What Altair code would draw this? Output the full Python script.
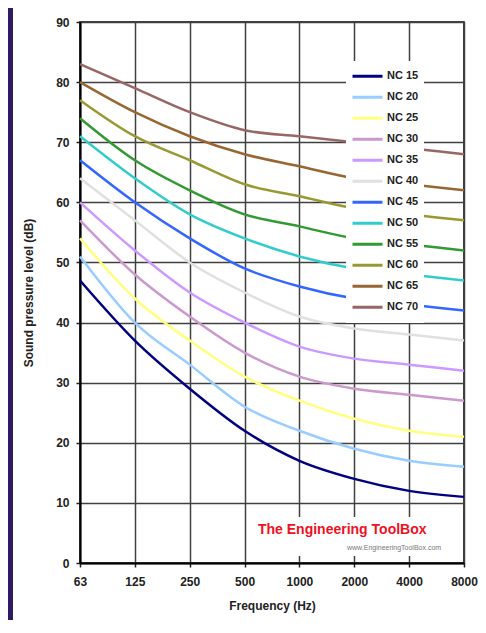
import altair as alt
import pandas as pd

freqs = ["63", "125", "250", "500", "1000", "2000", "4000", "8000"]
series_names = ["NC 15", "NC 20", "NC 25", "NC 30", "NC 35", "NC 40",
                "NC 45", "NC 50", "NC 55", "NC 60", "NC 65", "NC 70"]
nc15 = [47, 37, 29, 22, 17, 14, 12, 11]
nc20 = [51, 40, 33, 26, 22, 19, 17, 16]
nc25 = [54, 44, 37, 31, 27, 24, 22, 21]
nc30 = [57, 48, 41, 35, 31, 29, 28, 27]
nc35 = [60, 52, 45, 40, 36, 34, 33, 32]
nc40 = [64, 57, 50, 45, 41, 39, 38, 37]
nc45 = [67, 60, 54, 49, 46, 44, 43, 42]
nc50 = [71, 64, 58, 54, 51, 49, 48, 47]
nc55 = [74, 67, 62, 58, 56, 54, 53, 52]
nc60 = [77, 71, 67, 63, 61, 59, 58, 57]
nc65 = [80, 75, 71, 68, 66, 64, 63, 62]
nc70 = [83, 79, 75, 72, 71, 70, 69, 68]
colors = ["#000080", "#99ccff", "#ffff80", "#cc99cc", "#cc99ff", "#e0e0e0",
          "#3366ff", "#33cccc", "#339933", "#999933", "#996633", "#996666"]
y_ticks = [0, 10, 20, 30, 40, 50, 60, 70, 80, 90]

all_series = [nc15, nc20, nc25, nc30, nc35, nc40, nc45, nc50, nc55, nc60, nc65, nc70]
rows = []
for name, vals in zip(series_names, all_series):
    for f, v in zip(freqs, vals):
        rows.append({"Frequency": f, "SPL": v, "Curve": name})
df = pd.DataFrame(rows)

FONT = "Liberation Sans"

lines = alt.Chart(df).mark_line(strokeWidth=2.5, interpolate="monotone").encode(
    x=alt.X("Frequency:N", sort=freqs,
            scale=alt.Scale(type="point", padding=0),
            axis=alt.Axis(title="Frequency (Hz)", labelAngle=0, grid=True,
                          tickSize=4, labelPadding=9, titlePadding=13)),
    y=alt.Y("SPL:Q", scale=alt.Scale(domain=[0, 90], nice=False),
            axis=alt.Axis(title="Sound pressure level (dB)", values=y_ticks,
                          tickSize=4, labelPadding=7, titlePadding=20)),
    color=alt.Color("Curve:N", sort=series_names,
                    scale=alt.Scale(domain=series_names, range=colors),
                    legend=alt.Legend(title=None, orient="none", legendX=266, legendY=39,
                                      symbolType="stroke", symbolSize=900,
                                      symbolStrokeWidth=3, labelFontSize=11,
                                      labelFont=FONT, labelFontWeight="bold",
                                      labelColor="#222222", labelOffset=3,
                                      clipHeight=20.4, rowPadding=0, padding=5,
                                      fillColor="white")),
    order=alt.Order("Curve:N"),
)

one = alt.Data(values=[{"a": 1}])

strip = alt.Chart(one).mark_rect(color="#2f1b63").encode(
    x=alt.value(-72), x2=alt.value(-67), y=alt.value(-14), y2=alt.value(598))

wm_box = alt.Chart(one).mark_rect(color="white").encode(
    x=alt.value(173), x2=alt.value(383), y=alt.value(495), y2=alt.value(534))

wm_text = alt.Chart(one).mark_text(
    text="The Engineering ToolBox", color="#ee1122", font=FONT,
    fontWeight="bold", fontSize=14, align="left", baseline="alphabetic").encode(
    x=alt.value(178), y=alt.value(512))

wm_url = alt.Chart(one).mark_text(
    text="www.EngineeringToolBox.com", color="#777777", font=FONT,
    fontSize=7, align="left", baseline="alphabetic").encode(
    x=alt.value(267), y=alt.value(528))

chart = alt.layer(strip, lines, wm_box, wm_text, wm_url).properties(
    width=384, height=541,
    autosize=alt.AutoSizeParams(type="none"),
    padding={"left": 72, "top": 14, "right": 14, "bottom": 57},
    background="white",
).configure_view(
    stroke="black", strokeWidth=1.5
).configure_axis(
    labelFont=FONT, labelFontWeight="bold", labelFontSize=12, labelColor="#222222",
    titleFont=FONT, titleFontWeight="bold", titleFontSize=12, titleColor="#222222",
    gridColor="#404040", gridWidth=1.5, gridOpacity=1,
    domainColor="black", domainWidth=2, tickColor="#222222", tickWidth=1.5,
)

chart.save("out.html", embed_options={"renderer": "svg", "actions": False})
